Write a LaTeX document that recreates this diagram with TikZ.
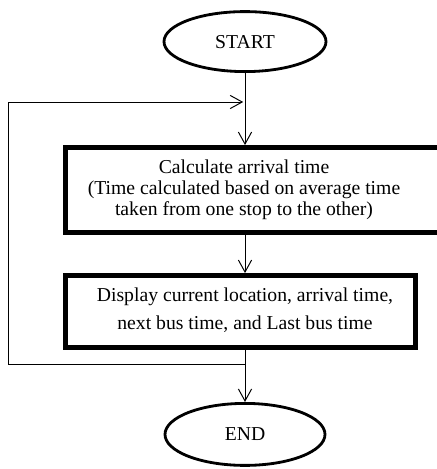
\documentclass[tikz,border=0pt]{standalone}
\usepackage{fontspec}
\setmainfont{Liberation Serif}
\usetikzlibrary{shapes.geometric,arrows.meta}

\begin{document}
\begin{tikzpicture}[
	terminal/.style={draw=black, ellipse, line width=2pt, inner sep=0pt, font=\fontsize{14}{15}\selectfont},
	procbox/.style={draw=black, rectangle, line width=3.6pt, inner sep=0pt},
	boxtext/.style={black, align=center, inner sep=0pt},
	flow/.style={draw=black, line width=0.7pt, -{Straight Barb[length=0.3cm, width=0.33cm]}}]
	\useasboundingbox (0,0) rectangle (10.925,-11.725);
	\node[terminal, minimum width=4.05cm, minimum height=1.5cm] (start) at (6.125,-1.04) {START};
	\node[procbox, minimum width=9.46cm, minimum height=2.12cm] (calc) at (6.37,-4.75) {};
	\node[boxtext, font=\fontsize{14}{15}\selectfont] (calctext) at (6.1,-4.75) {Calculate arrival time\\(Time calculated based on average time\\taken from one stop to the other)};
	\node[procbox, minimum width=8.75cm, minimum height=1.8cm] (disp) at (6.0125,-7.79) {};
	\node[boxtext, font=\fontsize{14}{20}\selectfont] (disptext) at (6.125,-7.76) {Display current location, arrival time,\\next bus time, and Last bus time};
	\node[terminal, minimum width=4.0cm, minimum height=1.55cm] (end) at (6.125,-10.86) {END};
	\coordinate (loopbot) at (6.125,-9.1);
	\coordinate (looptop) at (6.08,-2.55);
	\draw[flow] (start.south) -- (start.south |- calc.north);
	\draw[flow] (calc.south -| start.south) -- (disp.north -| start.south);
	\draw[flow] (disp.south -| start.south) -- (end.north);
	\draw[flow] (loopbot) -| (0.2,-2.55) -- (looptop);
\end{tikzpicture}
\end{document}
